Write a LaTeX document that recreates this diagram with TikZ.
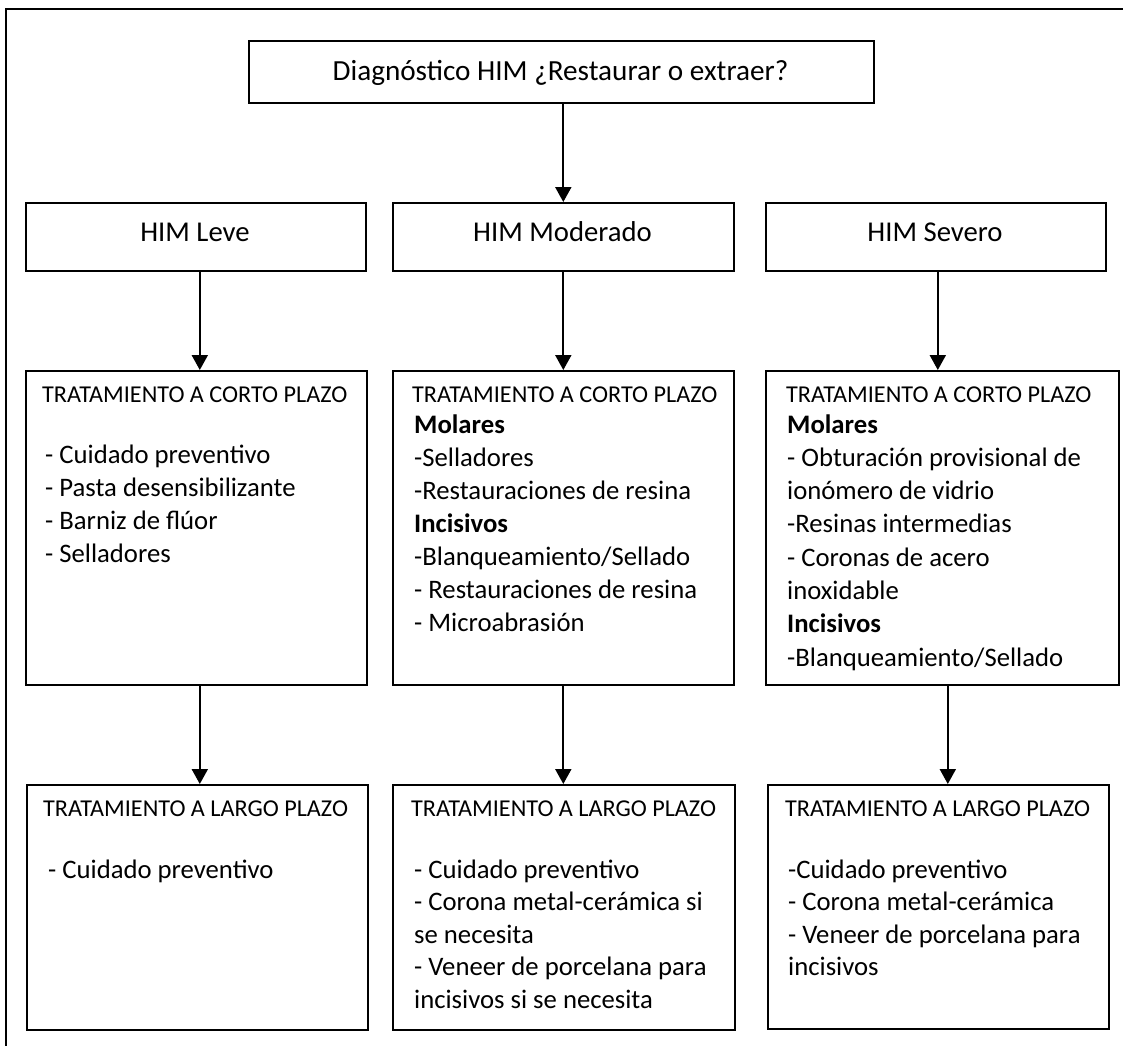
\documentclass[tikz,border=0pt]{standalone}
\usepackage{fontspec}
\setmainfont{Carlito}
\usetikzlibrary{arrows.meta,calc}
\begin{document}
\begin{tikzpicture}[x=1pt,y=-1pt,
  box/.style={draw, line width=1.6pt, inner sep=0pt, anchor=north west},
  titlefont/.style={font=\fontsize{29.2}{35}\selectfont},
  labfont/.style={font=\fontsize{28.7}{34}\selectfont},
  headfont/.style={font=\fontsize{24.2}{29}\selectfont, inner sep=0pt, anchor=base west},
  item/.style={font=\fontsize{26.7}{33}\selectfont, inner sep=0pt, anchor=base west},
  arr/.style={line width=2pt, -{Triangle[width=16pt,length=15pt]}}]
\useasboundingbox (0,0) rectangle (1123,1045);
\clip (0,0) rectangle (1123,1045);
\draw[line width=2pt] (6,9) rectangle (1140,1060);

% level 0
\node[box, minimum width=625pt, minimum height=62pt] (title) at (248,40) {};
\node[titlefont, inner sep=0pt, anchor=base] (titlet) at (560.5,80) {Diagnóstico HIM ¿Restaurar o extraer?};

% level 1
\node[box, minimum width=340pt, minimum height=68pt] (leve) at (25,202) {};
\node[box, minimum width=341pt, minimum height=68pt] (mod) at (392,202) {};
\node[box, minimum width=340pt, minimum height=68pt] (sev) at (765,202) {};
\node[labfont, inner sep=0pt, anchor=base] (levet) at (195,241.5) {HIM Leve};
\node[labfont, inner sep=0pt, anchor=base] (modt) at (562.5,241.5) {HIM Moderado};
\node[labfont, inner sep=0pt, anchor=base] (sevt) at (935,241.5) {HIM Severo};

% level 2 (short term)
\node[box, minimum width=341pt, minimum height=314pt] (c1) at (25,370) {};
\node[box, minimum width=341pt, minimum height=314pt] (c2) at (392,370) {};
\node[box, minimum width=353pt, minimum height=314pt] (c3) at (765,370) {};
\node[headfont] (c1h) at (42,402) {TRATAMIENTO A CORTO PLAZO};
\node[headfont] (c2h) at (412,402) {TRATAMIENTO A CORTO PLAZO};
\node[headfont] (c3h) at (786,402) {TRATAMIENTO A CORTO PLAZO};
\foreach \t [count=\i from 0] in {- Cuidado preventivo, - Pasta desensibilizante, - Barniz de flúor, - Selladores}
  \node[item] (c1-\i) at (45,{463+33*\i}) {\t};
\foreach \t [count=\i from 0] in {{\textbf{Molares}}, -Selladores, -Restauraciones de resina, {\textbf{Incisivos}}, -Blanqueamiento/Sellado, - Restauraciones de resina, - Microabrasión}
  \node[item] (c2-\i) at (414,{433+33*\i}) {\t};
\foreach \t [count=\i from 0] in {{\textbf{Molares}}, - Obturación provisional de, ionómero de vidrio, -Resinas intermedias, - Coronas de acero, inoxidable, {\textbf{Incisivos}}, -Blanqueamiento/Sellado}
  \node[item] (c3-\i) at (787,{433+33.3*\i}) {\t};

% level 3 (long term)
\node[box, minimum width=341pt, minimum height=245pt] (l1) at (26,784) {};
\node[box, minimum width=342pt, minimum height=245pt] (l2) at (392,784) {};
\node[box, minimum width=341pt, minimum height=244pt] (l3) at (767,784) {};
\node[headfont] (l1h) at (43,816) {TRATAMIENTO A LARGO PLAZO};
\node[headfont] (l2h) at (411,816) {TRATAMIENTO A LARGO PLAZO};
\node[headfont] (l3h) at (785,816) {TRATAMIENTO A LARGO PLAZO};
\node[item] (l1-0) at (48,878) {- Cuidado preventivo};
\foreach \t [count=\i from 0] in {- Cuidado preventivo, - Corona metal-cerámica si, se necesita, - Veneer de porcelana para, incisivos si se necesita}
  \node[item] (l2-\i) at (414,{878+32.5*\i}) {\t};
\foreach \t [count=\i from 0] in {-Cuidado preventivo, - Corona metal-cerámica, - Veneer de porcelana para, incisivos}
  \node[item] (l3-\i) at (788,{878+32.5*\i}) {\t};

% connectors
\draw[arr] (mod.north |- title.south) -- (mod.north);
\draw[arr] ($(leve.south)+(4,0)$) -- ($(leve.south |- c1.north)+(4,0)$);
\draw[arr] (mod.south) -- (mod.south |- c2.north);
\draw[arr] ($(sev.south)+(2,0)$) -- ($(sev.south |- c3.north)+(2,0)$);
\draw[arr] ($(c1.south)+(3.5,0)$) -- ($(c1.south |- l1.north)+(3.5,0)$);
\draw[arr] (c2.south) -- (c2.south |- l2.north);
\draw[arr] ($(c3.south)+(5.5,0)$) -- ($(c3.south |- l3.north)+(5.5,0)$);
\end{tikzpicture}
\end{document}
